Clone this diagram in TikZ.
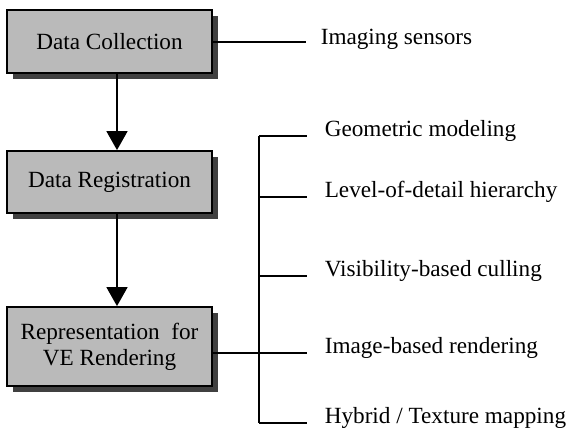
\documentclass[tikz,border=0pt]{standalone}
\usepackage{fontspec}
\setmainfont{Liberation Serif}
\usetikzlibrary{arrows.meta, shadows}
\tikzset{
  every picture/.style={line width=1.6pt},
  stage/.style={draw=black, fill=black!27, line width=1.8pt, align=center,
    minimum width=205pt, inner sep=2pt, font=\fontsize{23.2}{26}\selectfont,
    drop shadow={shadow xshift=6pt, shadow yshift=-6pt, fill=black!75, opacity=1}},
  arrow/.style={-{Triangle[length=19pt, width=21pt]}, line width=1.6pt},
  leaf/.style={anchor=base west, inner xsep=17pt, inner ysep=0pt, font=\fontsize{23.2}{26}\selectfont},
}

\begin{document}
\begin{tikzpicture}[x=1pt, y=-1pt]
  \useasboundingbox (0,0) rectangle (571,436);
  % stages
  \node[stage, minimum height=63pt] (dc) at (109.5, 41.5) {Data Collection};
  \node[stage, minimum height=62pt] (dr) at (109.5, 182) {Data Registration};
  \node[stage, minimum height=79pt] (rep) at (109.5, 346.5) {Representation~ for\\VE Rendering};
  \draw[arrow] ([xshift=7.5pt]dc.south) -- ([xshift=7.5pt]dr.north);
  \draw[arrow] ([xshift=7.5pt]dr.south) -- ([xshift=7.5pt]rep.north);
  % sensors
  \node[leaf, inner xsep=14pt] (is) at (306, 45) {Imaging sensors};
  \draw (dc.east |- 0,42) -- (is.west |- 0,42);
  % techniques
  \foreach \yy/\t [count=\i] in {136/Geometric modeling, 197/Level-of-detail hierarchy,
                                 276/Visibility-based culling, 353/Image-based rendering,
                                 423/{Hybrid / Texture mapping}} {
    \coordinate (b\i) at (259, \yy);
    \node[leaf] (g\i) at (307, \yy) {\t};
    \draw (b\i) -- (g\i.base west);
  }
  \draw (b1) -- (b5);
  \draw (rep.east |- b4) -- (b4);
\end{tikzpicture}
\end{document}
